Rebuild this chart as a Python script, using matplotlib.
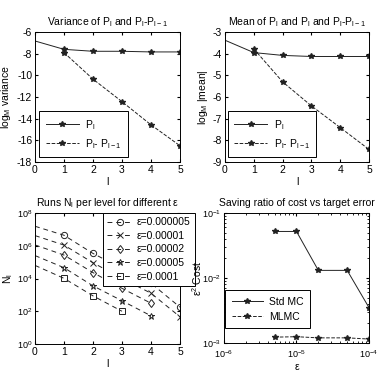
import numpy as np
import matplotlib
matplotlib.use("Agg")
import matplotlib.pyplot as plt
from matplotlib.ticker import NullLocator, NullFormatter

# levels
levels = [0, 1, 2, 3, 4, 5]
levels_diff = [1, 2, 3, 4, 5]

# variance (log_M)
var_p = [-6.83, -7.6, -7.78, -7.78, -7.84, -7.84]
var_dp = [-7.9, -10.35, -12.43, -14.57, -16.5]

# mean (log_M |mean|)
mean_p = [-3.38, -3.95, -4.08, -4.13, -4.13, -4.13]
mean_dp = [-3.78, -5.3, -6.41, -7.41, -8.42]

# runs per level, log10(N_l), for each epsilon (l = 0..L)
eps_labels = ["ε=0.000005", "ε=0.00001", "ε=0.00002", "ε=0.00005", "ε=0.0001"]
eps_markers = ["o", "x", "d", "*", "s"]
log_nl = [
    [7.19, 6.64, 5.53, 4.62, 3.71, 2.25],
    [6.62, 6.04, 4.96, 4.01, 3.10, 1.66],
    [6.05, 5.43, 4.36, 3.40, 2.49],
    [5.40, 4.66, 3.55, 2.64, 1.72],
    [4.80, 4.01, 2.94, 2.00],
]

# saving ratio
eps_vals = [5e-6, 1e-5, 2e-5, 5e-5, 1e-4]
std_mc = [0.052, 0.052, 0.0131, 0.0131, 0.0035]
mlmc = [0.00123, 0.00125, 0.00120, 0.00120, 0.00115]

plt.rcParams.update({
    "font.family": ["Liberation Sans", "DejaVu Sans"],
    "font.size": 7.5,
    "mathtext.fontset": "custom",
    "mathtext.rm": "Liberation Sans",
    "mathtext.it": "Liberation Sans",
    "axes.unicode_minus": False,
    "xtick.direction": "in",
    "ytick.direction": "in",
    "xtick.top": True,
    "ytick.right": True,
    "xtick.major.size": 2.5,
    "ytick.major.size": 2.5,
    "xtick.minor.size": 1.5,
    "ytick.minor.size": 1.5,
    "xtick.major.pad": 2.5,
    "ytick.major.pad": 2,
    "axes.linewidth": 0.7,
    "xtick.labelsize": 7.5,
    "ytick.labelsize": 7.5,
    "axes.titlesize": 7.5,
    "legend.fontsize": 7.5,
})

LC = "#222222"
W, H = 391, 372
fig = plt.figure(figsize=(W / 100, H / 100), dpi=100)


def box(l, t, r, b):
    return [l / W, 1 - b / H, (r - l) / W, (b - t) / H]


def leg(ax, loc, anchor, hl=3.2):
    lg = ax.legend(loc=loc, bbox_to_anchor=anchor, fancybox=False, edgecolor="black",
                   framealpha=1, borderaxespad=0, handlelength=hl, numpoints=1,
                   borderpad=0.6, labelspacing=0.5, handletextpad=0.6)
    lg.get_frame().set_linewidth(0.7)
    return lg


# top-left: variance
ax1 = fig.add_axes(box(35, 32, 180, 162))
ax1.plot(levels, var_p, "-", color=LC, lw=0.7, marker="*", ms=4, markevery=list(range(1, 6)),
         label="P$_l$")
ax1.plot(levels_diff, var_dp, "--", color=LC, lw=0.7, marker="*", ms=4,
         label="P$_l$- P$_{l-1}$")
ax1.set_xlim(0, 5)
ax1.set_ylim(-18, -6)
ax1.set_xticks(levels)
ax1.set_yticks(range(-18, -5, 2))
ax1.set_xlabel("l", labelpad=1)
ax1.set_ylabel("log$_M$ variance")
ax1.yaxis.set_label_coords(-0.15, 0.5)
ax1.set_title("Variance of P$_l$ and P$_l$-P$_{l-1}$", pad=5)
leg(ax1, "lower left", (0.03, 0.04))

# top-right: mean
ax2 = fig.add_axes(box(225, 32, 369, 162))
ax2.plot(levels, mean_p, "-", color=LC, lw=0.7, marker="*", ms=4, markevery=list(range(1, 6)),
         label="P$_l$")
ax2.plot(levels_diff, mean_dp, "--", color=LC, lw=0.7, marker="*", ms=4,
         label="P$_l$- P$_{l-1}$")
ax2.set_xlim(0, 5)
ax2.set_ylim(-9, -3)
ax2.set_xticks(levels)
ax2.set_xlabel("l", labelpad=1)
ax2.set_ylabel("log$_M$ |mean|")
ax2.yaxis.set_label_coords(-0.105, 0.5)
ax2.set_title("Mean of P$_l$ and P$_l$ and P$_l$-P$_{l-1}$", pad=5)
leg(ax2, "lower left", (0.02, 0.04))

# bottom-left: runs per level
ax3 = fig.add_axes(box(35, 213, 180, 344))
for lab, mk, vals in zip(eps_labels, eps_markers, log_nl):
    lv = levels[:len(vals)]
    ax3.semilogy(lv, 10 ** np.array(vals), "--", color=LC, lw=0.7, marker=mk, ms=4.5,
                 mfc="none", mec=LC, mew=0.7, markevery=list(range(1, len(vals))),
                 label=lab, dashes=(5, 4))
ax3.set_xlim(0, 5)
ax3.set_ylim(1, 1e8)
ax3.set_xticks(levels)
ax3.set_yticks([1e0, 1e2, 1e4, 1e6, 1e8])
ax3.yaxis.set_minor_locator(NullLocator())
ax3.tick_params(axis="y", labelsize=6.5)
ax3.set_xlabel("l", labelpad=1)
ax3.set_ylabel("N$_l$")
ax3.yaxis.set_label_coords(-0.14, 0.5)
ax3.set_title("Runs N$_l$ per level for different ε", pad=5)
lg3 = ax3.legend(loc="upper right", bbox_to_anchor=(1.10, 1.0), fancybox=False,
                 edgecolor="black", framealpha=1, borderaxespad=0, handlelength=2.4,
                 numpoints=1, borderpad=0.4, labelspacing=0.35, handletextpad=0.4)
lg3.get_frame().set_linewidth(0.7)

# bottom-right: saving ratio
ax4 = fig.add_axes(box(224, 213, 369, 343))
ax4.loglog(eps_vals, std_mc, "-", color=LC, lw=0.7, marker="*", ms=4, label="Std MC")
ax4.loglog(eps_vals, mlmc, "--", color=LC, lw=0.7, marker="*", ms=4, label="MLMC")
ax4.set_xlim(1e-6, 1e-4)
ax4.set_ylim(1e-3, 1e-1)
ax4.xaxis.set_minor_formatter(NullFormatter())
ax4.yaxis.set_minor_formatter(NullFormatter())
ax4.tick_params(axis="both", which="major", labelsize=6.5)
ax4.tick_params(axis="x", which="major", pad=4)
ax4.set_xlabel("ε", labelpad=1)
ax4.set_ylabel("ε$^2$ Cost")
ax4.yaxis.set_label_coords(-0.14, 0.5)
ax4.set_title("Saving ratio of cost vs target error", pad=5)
leg(ax4, "lower left", (0.01, 0.115), hl=3.0)

fig.savefig("out.png", dpi=100, facecolor="white")
